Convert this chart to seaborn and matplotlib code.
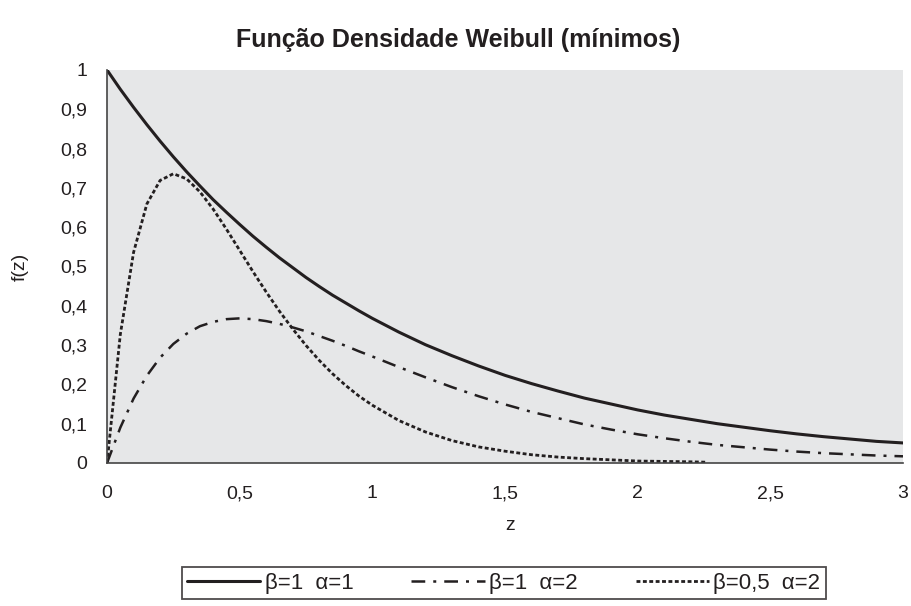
import matplotlib
matplotlib.use("Agg")
import matplotlib.pyplot as plt
import seaborn as sns
import pandas as pd

# ---- data ----
z = [0, 0.05, 0.1, 0.15, 0.2, 0.25, 0.3, 0.35, 0.4, 0.45, 0.5, 0.55, 0.6, 0.65,
     0.7, 0.75, 0.8, 0.85, 0.9, 0.95, 1.0, 1.1, 1.2, 1.3, 1.4, 1.5, 1.6, 1.7,
     1.8, 1.9, 2.0, 2.1, 2.2, 2.3, 2.4, 2.5, 2.6, 2.7, 2.8, 2.9, 3.0]

f_b1_a1 = [1.000, 0.951, 0.905, 0.861, 0.819, 0.779, 0.741, 0.705, 0.670, 0.638,
           0.607, 0.577, 0.549, 0.522, 0.497, 0.472, 0.449, 0.427, 0.407, 0.387,
           0.368, 0.333, 0.301, 0.273, 0.247, 0.223, 0.202, 0.183, 0.165, 0.150,
           0.135, 0.122, 0.111, 0.100, 0.091, 0.082, 0.074, 0.067, 0.061, 0.055,
           0.051]

f_b1_a2 = [0.000, 0.090, 0.164, 0.222, 0.268, 0.303, 0.329, 0.348, 0.359, 0.366,
           0.368, 0.366, 0.361, 0.354, 0.345, 0.335, 0.323, 0.311, 0.298, 0.284,
           0.271, 0.244, 0.218, 0.193, 0.170, 0.149, 0.130, 0.114, 0.098, 0.085,
           0.073, 0.063, 0.054, 0.046, 0.040, 0.034, 0.029, 0.025, 0.022, 0.019,
           0.017]

z_dot = [0, 0.05, 0.1, 0.15, 0.2, 0.25, 0.3, 0.35, 0.4, 0.45, 0.5, 0.55, 0.6, 0.65,
         0.7, 0.75, 0.8, 0.85, 0.9, 0.95, 1.0, 1.1, 1.2, 1.3, 1.4, 1.5, 1.6, 1.7,
         1.8, 1.9, 2.0, 2.1, 2.2, 2.26]
f_b05_a2 = [0.000, 0.327, 0.536, 0.659, 0.719, 0.736, 0.723, 0.690, 0.646, 0.595,
            0.541, 0.487, 0.435, 0.386, 0.341, 0.299, 0.261, 0.227, 0.197, 0.170,
            0.147, 0.108, 0.079, 0.057, 0.041, 0.030, 0.021, 0.015, 0.011, 0.008,
            0.005, 0.004, 0.003, 0.002]

labels = ["β=1  α=1", "β=1  α=2", "β=0,5  α=2"]
x_ticks = [0, 0.5, 1, 1.5, 2, 2.5, 3]
x_ticklabels = ["0", "0,5", "1", "1,5", "2", "2,5", "3"]
y_ticks = [0, 0.1, 0.2, 0.3, 0.4, 0.5, 0.6, 0.7, 0.8, 0.9, 1]
y_ticklabels = ["0", "0,1", "0,2", "0,3", "0,4", "0,5", "0,6", "0,7", "0,8", "0,9", "1"]
title = "Função Densidade Weibull (mínimos)"

# ---- plotting ----
sns.set_style("white")
plt.rcParams["font.family"] = ["Liberation Sans", "DejaVu Sans"]

fig = plt.figure(figsize=(9.11, 6.06), dpi=100)
ax = fig.add_axes([0.1175, 0.236, 0.9912 - 0.1175, 0.8845 - 0.236])
ax.set_facecolor("#e6e7e8")

ink = "#231f20"
d1 = pd.DataFrame({"z": z, "f": f_b1_a1})
d2 = pd.DataFrame({"z": z, "f": f_b1_a2})
d3 = pd.DataFrame({"z": z_dot, "f": f_b05_a2})

sns.lineplot(data=d1, x="z", y="f", ax=ax, color=ink, lw=2.2, label=labels[0])
sns.lineplot(data=d2, x="z", y="f", ax=ax, color=ink, lw=1.8,
             linestyle=(0, (5.5, 3.2, 1.2, 3.2)), label=labels[1])
sns.lineplot(data=d3, x="z", y="f", ax=ax, color=ink, lw=2.0,
             linestyle=(0, (1.4, 0.9)), label=labels[2])

ax.set_xlim(0, 3)
ax.set_ylim(0, 1)
ax.set_xticks(x_ticks)
ax.set_xticklabels(x_ticklabels)
ax.set_yticks(y_ticks)
ax.set_yticklabels(y_ticklabels)
ax.tick_params(axis="both", direction="out", length=7, width=1.0, color="#444444",
               labelsize=14, labelcolor=ink)
ax.tick_params(axis="y", pad=7.5)
ax.tick_params(axis="x", pad=9)
for s in ["top", "right"]:
    ax.spines[s].set_visible(False)
for s in ["left", "bottom"]:
    ax.spines[s].set_color("#444444")
    ax.spines[s].set_linewidth(1.2)

ax.set_xlabel("z", fontsize=14, color=ink)
ax.set_ylabel("f(z)", fontsize=14, color=ink)
ax.xaxis.set_label_coords((510 - 107) / 796, (463 - 517) / 393)
ax.yaxis.set_label_coords((29 - 107) / 796, 0.5)

fig.text(0.503, 1 - 40 / 606, title, ha="center", va="center",
         fontsize=18, fontweight="bold", color=ink)

ax.get_legend().remove()
h, l = ax.get_legend_handles_labels()
leg = fig.legend(h, l, loc="center", bbox_to_anchor=(0.553, 1 - 583 / 606),
                 ncol=3, frameon=True, fancybox=False, fontsize=16,
                 handlelength=3.3, handletextpad=0.2, columnspacing=2.6,
                 borderpad=0.25, borderaxespad=0, labelcolor=ink)
leg.get_frame().set_edgecolor(ink)
leg.get_frame().set_linewidth(1.3)
leg.get_frame().set_facecolor("white")

fig.savefig("out.png", dpi=100)
